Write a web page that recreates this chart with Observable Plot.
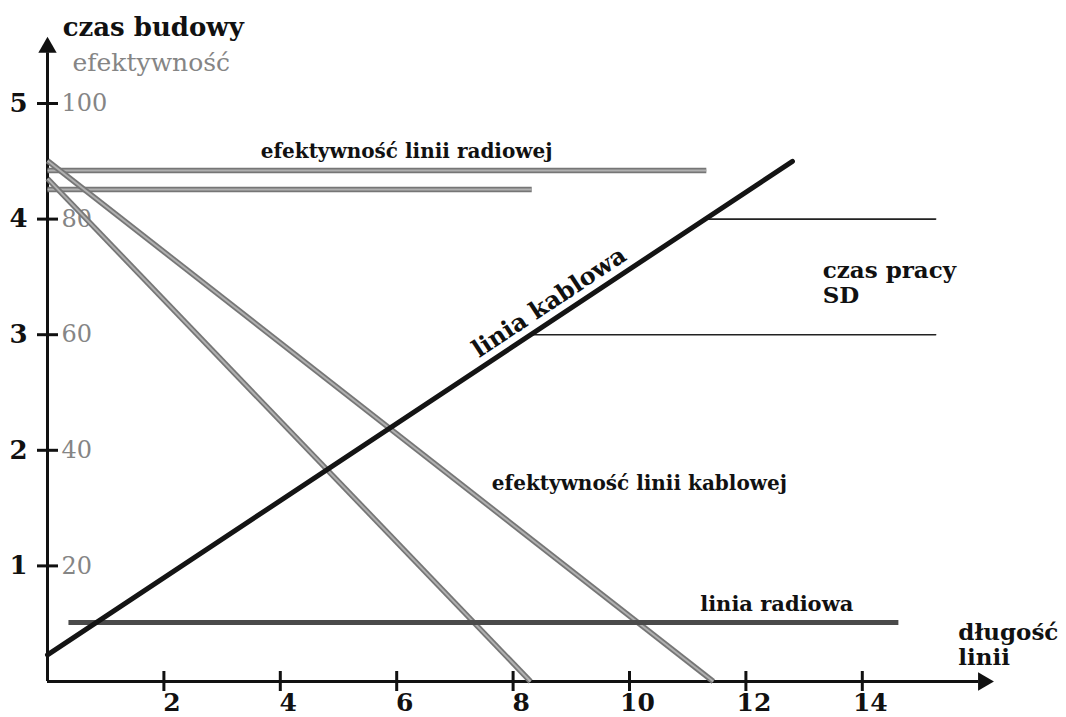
<!DOCTYPE html>
<html>
<head>
<meta charset="utf-8">
<script src="https://cdn.jsdelivr.net/npm/d3@7"></script>
<script src="https://cdn.jsdelivr.net/npm/@observablehq/plot@0.6"></script>
<style>
  html, body { margin: 0; padding: 0; background: #ffffff; }
  #chart svg { display: block; }
</style>
</head>
<body>
<div id="chart"></div>
<script>
// ---------- data ----------
// axis ticks
const lengthTicks = [2, 4, 6, 8, 10, 12, 14];      // długość linii
const timeTicks = [1, 2, 3, 4, 5];                  // czas budowy
const effTicks = [20, 40, 60, 80, 100];             // efektywność (%)
const effPerTimeUnit = 20;                          // 100 % ↔ 5 time units

// linia kablowa (czas budowy)
const cableLen = [0, 12.8];
const cableTime = [0.23, 4.5];
// linia radiowa (czas budowy)
const radioLen = [0.36, 14.62];
const radioTime = [0.51, 0.51];
// efektywność linii radiowej (two horizontal lines)
const radioEffUpperLen = [0, 11.32];
const radioEffUpper = [88.4, 88.4];
const radioEffLowerLen = [0, 8.32];
const radioEffLower = [85.1, 85.1];
// efektywność linii kablowej (two falling lines)
const cableEffUpperLen = [0, 11.44];
const cableEffUpper = [90.1, 0];
const cableEffLowerLen = [0, 8.3];
const cableEffLower = [87.0, 0];
// czas pracy SD (thin horizontal lines)
const sdUpperLen = [11.29, 15.26];
const sdUpperTime = [4, 4];
const sdLowerLen = [8.3, 15.26];
const sdLowerTime = [3, 3];

// ---------- helpers ----------
const rows = (xs, ys) => xs.map((x, i) => ({x, y: ys[i]}));
const effRows = (xs, es) => xs.map((x, i) => ({x, y: es[i] / effPerTimeUnit}));

const W = 1066, H = 717;
const marginLeft = 47, marginBottom = 36;
const xMax = (W - marginLeft) / 58.2;
const yMax = (H - marginBottom) / 115.6;

const serif = "DejaVu Serif";
const grayDark = "#767676", grayLight = "#b0b0b0";
const grayText = "#858585";

function grayLine(data) {
  return [
    Plot.line(data, {x: "x", y: "y", stroke: grayDark, strokeWidth: 5.5, strokeLinecap: "butt"}),
    Plot.line(data, {x: "x", y: "y", stroke: grayLight, strokeWidth: 2, strokeLinecap: "butt"})
  ];
}

const plot = Plot.plot({
  width: W,
  height: H,
  marginLeft,
  marginBottom,
  marginTop: 0,
  marginRight: 0,
  style: {fontFamily: serif, background: "#ffffff", overflow: "visible"},
  x: {domain: [0, xMax]},
  y: {domain: [0, yMax]},
  marks: [
    // axes lines
    Plot.ruleY([0], {y: d => d, x1: () => 0, x2: () => 16.0, stroke: "#111", strokeWidth: 3}),
    Plot.ruleX([0], {x: d => d, y1: () => 0, y2: () => 5.44, stroke: "#111", strokeWidth: 3}),
    // arrow heads
    Plot.dot([0], {x: () => 16.08, y: () => 0, symbol: "triangle", r: 6.8, rotate: 90, fill: "#111", stroke: null}),
    Plot.dot([0], {x: () => 0, y: () => 5.485, symbol: "triangle", r: 6.8, fill: "#111", stroke: null}),
    // crossing ticks
    Plot.ruleX(lengthTicks, {x: d => d, y1: () => 0, y2: () => 0, insetTop: 10, insetBottom: 10, stroke: "#111", strokeWidth: 3}),
    Plot.ruleY(timeTicks, {y: d => d, x1: () => 0, x2: () => 0, insetLeft: -10, insetRight: -11, stroke: "#111", strokeWidth: 3}),
    // tick labels
    Plot.axisX({ticks: lengthTicks, tickFormat: d => String(d), tickSize: 0, tickPadding: 12, dx: 8, fontSize: 25, fontWeight: "bold", fontFamily: serif, fill: "#111", label: null}),
    Plot.axisY({ticks: timeTicks, tickFormat: d => String(d), tickSize: 0, tickPadding: 20, fontSize: 26, fontWeight: "bold", fontFamily: serif, fill: "#111", label: null}),
    Plot.text(effTicks, {x: () => 0, y: d => d / effPerTimeUnit, text: d => String(d), dx: 14, textAnchor: "start", fontSize: 24, fontFamily: serif, fill: grayText}),

    // efektywność linii radiowej
    ...grayLine(effRows(radioEffUpperLen, radioEffUpper)),
    ...grayLine(effRows(radioEffLowerLen, radioEffLower)),
    // efektywność linii kablowej
    ...grayLine(effRows(cableEffUpperLen, cableEffUpper)),
    ...grayLine(effRows(cableEffLowerLen, cableEffLower)),
    // czas pracy SD
    Plot.line(rows(sdUpperLen, sdUpperTime), {x: "x", y: "y", stroke: "#222", strokeWidth: 1.6}),
    Plot.line(rows(sdLowerLen, sdLowerTime), {x: "x", y: "y", stroke: "#222", strokeWidth: 1.6}),
    // linia radiowa
    Plot.line(rows(radioLen, radioTime), {x: "x", y: "y", stroke: "#4a4a4a", strokeWidth: 5, strokeLinecap: "butt"}),
    // linia kablowa
    Plot.line(rows(cableLen, cableTime), {x: "x", y: "y", stroke: "#141414", strokeWidth: 5, strokeLinecap: "round"}),

    // annotations
    Plot.text(["czas budowy"], {x: () => 0.26, y: () => 5.66, text: d => d, textAnchor: "start", fontSize: 26, fontWeight: "bold", fontFamily: serif, fill: "#111"}),
    Plot.text(["efektywność"], {x: () => 0.43, y: () => 5.35, text: d => d, textAnchor: "start", fontSize: 25, fontFamily: serif, fill: grayText}),
    Plot.text(["efektywność linii radiowej"], {x: () => 6.17, y: () => 4.58, text: d => d, fontSize: 20, fontWeight: "bold", fontFamily: serif, fill: "#111"}),
    Plot.text(["linia kablowa"], {x: () => 8.62, y: () => 3.28, text: d => d, rotate: -33.6, fontSize: 24, fontWeight: "bold", fontFamily: serif, fill: "#111"}),
    Plot.text(["czas pracy\nSD"], {x: () => 13.32, y: () => 3.45, text: d => d, textAnchor: "start", lineHeight: 1.1, fontSize: 23, fontWeight: "bold", fontFamily: serif, fill: "#111"}),
    Plot.text(["efektywność linii kablowej"], {x: () => 10.17, y: () => 1.71, text: d => d, fontSize: 20, fontWeight: "bold", fontFamily: serif, fill: "#111"}),
    Plot.text(["linia radiowa"], {x: () => 12.53, y: () => 0.67, text: d => d, fontSize: 21, fontWeight: "bold", fontFamily: serif, fill: "#111"}),
    Plot.text(["długość\nlinii"], {x: () => 15.65, y: () => 0.32, text: d => d, textAnchor: "start", lineHeight: 1.1, fontSize: 23, fontWeight: "bold", fontFamily: serif, fill: "#111"})
  ]
});
document.getElementById("chart").appendChild(plot);
</script>
</body>
</html>
